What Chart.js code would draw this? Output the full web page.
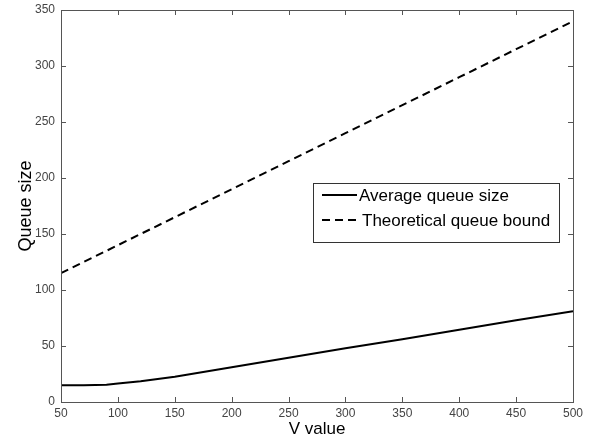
<!DOCTYPE html>
<html>
<head>
<meta charset="utf-8">
<script src="https://cdn.jsdelivr.net/npm/chart.js@4/dist/chart.umd.min.js"></script>
<style>
  html, body { margin: 0; padding: 0; background: #fff; }
  #wrap { width: 592px; height: 440px; }
</style>
</head>
<body>
<div id="wrap"><canvas id="myChart" width="592" height="440"></canvas></div>
<script>
// values
const vValues = [50, 70, 90, 100, 120, 150, 200, 250, 300, 350, 400, 450, 500];
const avgQueue = [15, 15, 15.3, 16.5, 18.5, 22.5, 31, 39.5, 48, 56, 64.5, 73, 81];
const boundQueue = [115, 125, 135, 140, 150, 165, 190, 215, 240, 265, 290, 315, 340];
const xTicks = [50, 100, 150, 200, 250, 300, 350, 400, 450, 500];
const yTicks = [0, 50, 100, 150, 200, 250, 300, 350];

const ctx = document.getElementById('myChart');
const fam = '"Liberation Sans", Arial, sans-serif';

// frame, inward ticks on all four sides, and the boxed legend
const framePlugin = {
    id: 'frame',
    afterDraw(chart) {
        const c = chart.ctx;
        const a = chart.chartArea;
        const xs = chart.scales.x, ys = chart.scales.y;
        c.save();
        c.strokeStyle = '#555';
        c.lineWidth = 1;
        c.strokeRect(a.left + 0.5, a.top + 0.5, a.right - a.left, a.bottom - a.top);
        c.beginPath();
        xTicks.forEach(t => {
            const px = Math.round(xs.getPixelForValue(t)) + 0.5;
            c.moveTo(px, a.bottom); c.lineTo(px, a.bottom - 5);
            c.moveTo(px, a.top); c.lineTo(px, a.top + 5);
        });
        yTicks.forEach(t => {
            const py = Math.round(ys.getPixelForValue(t)) + 0.5;
            c.moveTo(a.left, py); c.lineTo(a.left + 5, py);
            c.moveTo(a.right, py); c.lineTo(a.right - 5, py);
        });
        c.stroke();

        // legend box
        const lx = 313, ly = 183, lw = 246, lh = 59;
        c.fillStyle = '#fff';
        c.fillRect(lx, ly, lw, lh);
        c.strokeStyle = '#333';
        c.strokeRect(lx + 0.5, ly + 0.5, lw, lh);
        c.font = '17px ' + fam;
        c.textBaseline = 'middle';
        chart.data.datasets.forEach((ds, i) => {
            const y = ly + 12 + i * 25;
            c.strokeStyle = '#000';
            c.lineWidth = ds.borderWidth;
            c.setLineDash(ds.borderDash || []);
            c.beginPath();
            c.moveTo(lx + 9, y); c.lineTo(lx + 44, y);
            c.stroke();
            c.setLineDash([]);
            c.fillStyle = '#000';
            c.fillText(ds.label, lx + 46 + i * 3, y + 1);
        });
        c.restore();
    }
};

let chartData = {
    type: 'line',
    data: {
        datasets: [{
            label: 'Average queue size',
            data: vValues.map((v, i) => ({x: v, y: avgQueue[i]})),
            borderColor: '#000',
            borderWidth: 2,
            pointRadius: 0,
            tension: 0
        }, {
            label: 'Theoretical queue bound',
            data: vValues.map((v, i) => ({x: v, y: boundQueue[i]})),
            borderColor: '#000',
            borderWidth: 2,
            borderDash: [8, 5],
            pointRadius: 0,
            tension: 0
        }]
    },
    options: {
        responsive: false,
        animation: false,
        layout: { padding: { top: 10, right: 19, left: 0, bottom: 0 } },
        plugins: { legend: { display: false }, tooltip: { enabled: false } },
        scales: {
            x: {
                type: 'linear',
                min: 50, max: 500,
                afterBuildTicks: s => { s.ticks = xTicks.map(v => ({value: v})); },
                afterFit: s => { s.height = 38; s.paddingRight = 0; },
                grid: { display: false, drawTicks: false },
                border: { display: false },
                ticks: { color: '#444', padding: 4, font: { family: fam, size: 12 } },
                title: { display: true, text: 'V value', color: '#000', padding: 0,
                         font: { family: fam, size: 17 } }
            },
            y: {
                min: 0, max: 350,
                afterBuildTicks: s => { s.ticks = yTicks.map(v => ({value: v})); },
                afterFit: s => { s.width = 61; s.paddingTop = 0; },
                grid: { display: false, drawTicks: false },
                border: { display: false },
                ticks: { color: '#444', padding: 6, font: { family: fam, size: 12 } },
                title: { display: true, text: 'Queue size', color: '#000', padding: { top: 15, bottom: 0 },
                         font: { family: fam, size: 18 } }
            }
        }
    },
    plugins: [framePlugin]
};

const myChart = new Chart(ctx, chartData);
</script>
</body>
</html>
